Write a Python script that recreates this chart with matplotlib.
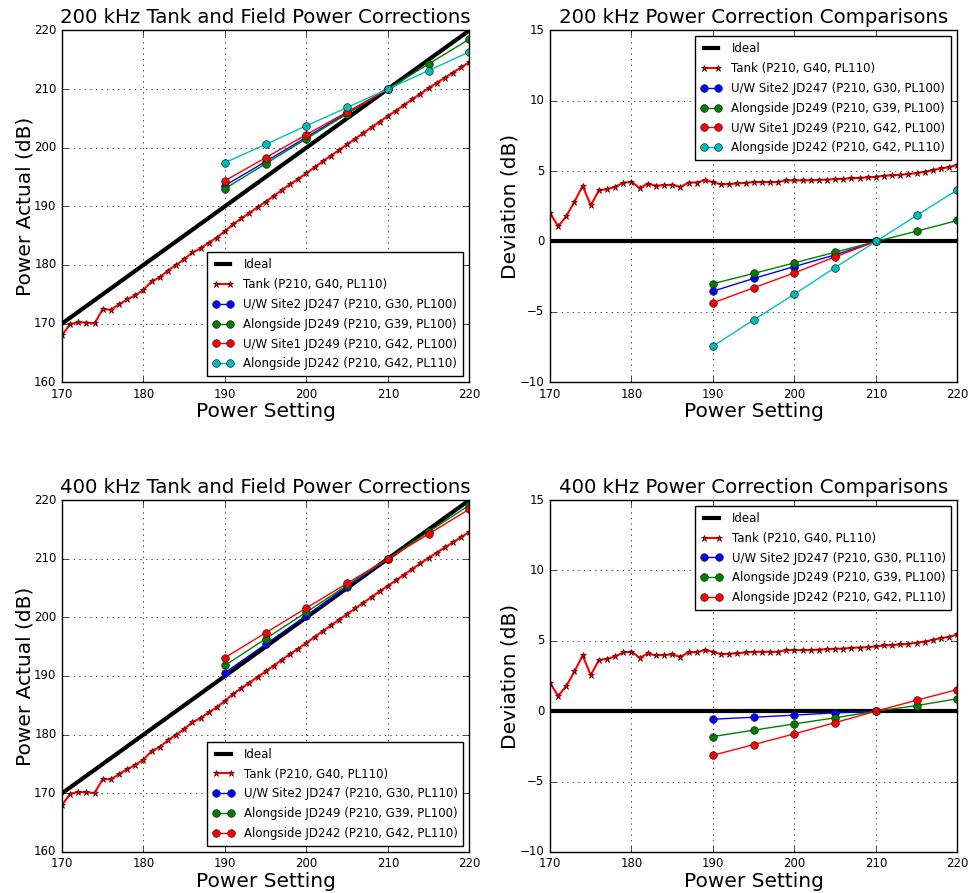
import matplotlib
matplotlib.use('Agg')
import matplotlib.pyplot as plt

plt.style.use('classic')
plt.rcParams['figure.facecolor'] = 'white'
plt.rcParams['savefig.facecolor'] = 'white'

# power settings for the tank calibration
tank_setting = list(range(170, 221))

# tank deviation (setting - actual), dB
tank_dev = [2.01, 1.07, 1.80, 2.82, 3.96, 2.56, 3.63, 3.72, 3.89, 4.17,
            4.24, 3.79, 4.10, 3.96, 4.00, 4.03, 3.86, 4.19, 4.19, 4.34,
            4.22, 4.05, 4.08, 4.12, 4.17, 4.22, 4.22, 4.22, 4.22, 4.34,
            4.34, 4.34, 4.34, 4.38, 4.40, 4.43, 4.45, 4.50, 4.52, 4.55,
            4.60, 4.67, 4.70, 4.74, 4.79, 4.86, 4.95, 5.07, 5.19, 5.28,
            5.45]

# tank actual power, dB
tank_actual = [167.99, 169.93, 170.20, 170.18, 170.04, 172.44, 172.37, 173.28, 174.11, 174.83,
               175.76, 177.21, 177.90, 179.04, 180.00, 180.97, 182.14, 182.81, 183.81, 184.66,
               185.78, 186.95, 187.92, 188.88, 189.83, 190.78, 191.78, 192.78, 193.78, 194.66,
               195.66, 196.66, 197.66, 198.62, 199.60, 200.57, 201.55, 202.50, 203.48, 204.45,
               205.40, 206.33, 207.30, 208.26, 209.21, 210.14, 211.05, 211.93, 212.81, 213.72,
               214.55]

field_setting = [190, 195, 200, 205, 210, 215, 220]

# 200 kHz field deviations
dev200_site2 = [-3.53, -2.63, -1.78, -0.95, 0.0]
dev200_along249 = [-3.00, -2.27, -1.52, -0.76, 0.0, 0.73, 1.49]
dev200_site1 = [-4.36, -3.29, -2.23, -1.09, 0.0]
dev200_along242 = [-7.44, -5.57, -3.74, -1.85, 0.0, 1.85, 3.67]

# 200 kHz field actual power
act200_site2 = [193.53, 197.63, 201.78, 205.95, 210.0]
act200_along249 = [193.00, 197.27, 201.52, 205.76, 210.0, 214.27, 218.51]
act200_site1 = [194.36, 198.29, 202.23, 206.09, 210.0]
act200_along242 = [197.44, 200.57, 203.74, 206.85, 210.0, 213.15, 216.33]

# 400 kHz field deviations
dev400_site2 = [-0.57, -0.43, -0.28, -0.12, 0.0]
dev400_along249 = [-1.80, -1.35, -0.90, -0.47, 0.0, 0.40, 0.88]
dev400_along242 = [-3.13, -2.37, -1.61, -0.81, 0.0, 0.78, 1.54]

# 400 kHz field actual power
act400_site2 = [190.57, 195.43, 200.28, 205.12, 210.0]
act400_along249 = [191.80, 196.35, 200.90, 205.47, 210.0, 214.60, 219.12]
act400_along242 = [193.13, 197.37, 201.61, 205.81, 210.0, 214.22, 218.46]

ideal_x = [170, 220]
ideal_actual = [170, 220]
ideal_dev = [0, 0]

tank_label = 'Tank (P210, G40, PL110)'

fig, axes = plt.subplots(2, 2, figsize=(9.69, 8.93), dpi=100)
fig.subplots_adjust(left=0.064, right=0.988, bottom=0.046, top=0.966,
                    wspace=0.198, hspace=0.335)


def draw_panel(ax, title, ideal_y, tank_y, series, ylabel, ylim, loc):
    ax.plot(ideal_x, ideal_y, 'k-', lw=3, label='Ideal')
    ax.plot(tank_setting, tank_y, 'r-*', lw=1.5, ms=5, mec='#550000',
            mew=0.5, label=tank_label)
    for vals, color, label in series:
        ax.plot(field_setting[:len(vals)], vals, '-o', color=color, ms=5.5,
                mec='#222222', mew=0.5, label=label)
    ax.set_xlim(170, 220)
    ax.set_ylim(*ylim)
    ax.set_title(title, fontsize=14.2)
    ax.set_xlabel('Power Setting', fontsize=14.5, labelpad=1)
    ax.set_ylabel(ylabel, fontsize=14.5, labelpad=0)
    ax.grid(True)
    ax.tick_params(labelsize=8.5)
    ax.legend(loc=loc, fontsize=8.5, numpoints=2, handlelength=1.8,
              handletextpad=0.8, labelspacing=0.58, borderpad=0.5,
              borderaxespad=0.5)


draw_panel(axes[0, 0], '200 kHz Tank and Field Power Corrections',
           ideal_actual, tank_actual, [
               (act200_site2, 'b', 'U/W Site2 JD247 (P210, G30, PL100)'),
               (act200_along249, 'g', 'Alongside JD249 (P210, G39, PL100)'),
               (act200_site1, 'r', 'U/W Site1 JD249 (P210, G42, PL100)'),
               (act200_along242, 'c', 'Alongside JD242 (P210, G42, PL110)'),
           ], 'Power Actual (dB)', (160, 220), 'lower right')
draw_panel(axes[0, 1], '200 kHz Power Correction Comparisons',
           ideal_dev, tank_dev, [
               (dev200_site2, 'b', 'U/W Site2 JD247 (P210, G30, PL100)'),
               (dev200_along249, 'g', 'Alongside JD249 (P210, G39, PL100)'),
               (dev200_site1, 'r', 'U/W Site1 JD249 (P210, G42, PL100)'),
               (dev200_along242, 'c', 'Alongside JD242 (P210, G42, PL110)'),
           ], 'Deviation (dB)', (-10, 15), 'upper right')
draw_panel(axes[1, 0], '400 kHz Tank and Field Power Corrections',
           ideal_actual, tank_actual, [
               (act400_site2, 'b', 'U/W Site2 JD247 (P210, G30, PL110)'),
               (act400_along249, 'g', 'Alongside JD249 (P210, G39, PL100)'),
               (act400_along242, 'r', 'Alongside JD242 (P210, G42, PL110)'),
           ], 'Power Actual (dB)', (160, 220), 'lower right')
draw_panel(axes[1, 1], '400 kHz Power Correction Comparisons',
           ideal_dev, tank_dev, [
               (dev400_site2, 'b', 'U/W Site2 JD247 (P210, G30, PL110)'),
               (dev400_along249, 'g', 'Alongside JD249 (P210, G39, PL100)'),
               (dev400_along242, 'r', 'Alongside JD242 (P210, G42, PL110)'),
           ], 'Deviation (dB)', (-10, 15), 'upper right')

fig.savefig('out.png', dpi=100)
